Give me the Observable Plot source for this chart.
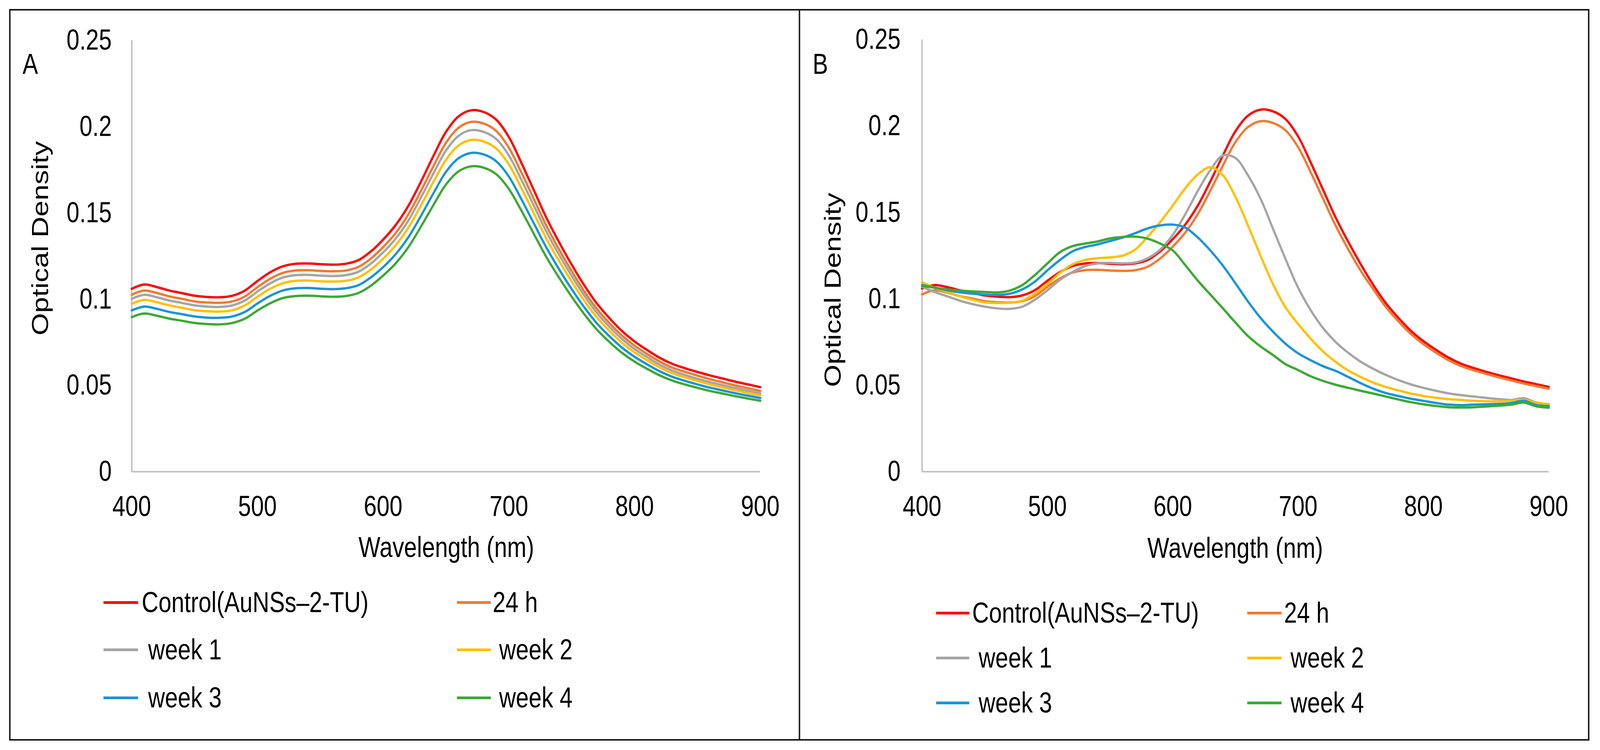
<!DOCTYPE html>
<html><head><meta charset="utf-8">
<script src="https://cdn.jsdelivr.net/npm/d3@7"></script>
<script src="https://cdn.jsdelivr.net/npm/@observablehq/plot@0.6"></script>
<style>
html,body{margin:0;padding:0;background:#fff;overflow:hidden;}
#page{position:absolute;left:0;top:0;width:4391px;height:1920px;overflow:hidden;background:#fff;font-family:"Liberation Sans",Arial,sans-serif;color:#000;transform-origin:0 0;}
.t{position:absolute;font-size:74px;line-height:74px;white-space:pre;transform-origin:0 50%;transform:scaleX(0.86);}
.tc{position:absolute;font-size:74px;line-height:74px;white-space:pre;transform:translateX(-50%) scaleX(0.86);}
.tr{position:absolute;font-size:74px;line-height:74px;white-space:pre;transform:translate(-50%,-50%) rotate(-90deg) scale(1,0.86);}
.sw{position:absolute;height:7px;}
.panel{position:absolute;top:0;}
.box{position:absolute;box-sizing:border-box;border:4px solid #1a1a1a;}
.sep{position:absolute;background:#1a1a1a;}
</style></head><body><div id="page"></div>
<script>
// ---------- data ----------
const wavelengths = [400,410,420,430,440,450,460,470,480,490,500,510,520,530,540,550,560,570,580,590,600,610,620,630,640,650,660,670,680,690,700,710,720,730,740,750,760,770,780,790,800,810,820,830,840,850,860,870,880,890,900];
const xTicks = [400,500,600,700,800,900];
const xTickLabels = ["400","500","600","700","800","900"];
const yTicks = [0,0.05,0.1,0.15,0.2,0.25];
const yTickLabels = ["0","0.05","0.1","0.15","0.2","0.25"];
const seriesNames = ["Control(AuNSs\u20132-TU)","24 h"," week 1"," week 2"," week 3"," week 4"];
const panelLabels = ["A","B"];
const xTitle = "Wavelength (nm)";
const yTitle = "Optical Density";

// Panel A
const A_control = [.1060,.1085,.1070,.1050,.1035,.1020,.1013,.1011,.1020,.1050,.1105,.1155,.1190,.1205,.1207,.1203,.1200,.1205,.1225,.1275,.1345,.1430,.1540,.1680,.1830,.1970,.2060,.2095,.2085,.2040,.1940,.1790,.1630,.1470,.1330,.1200,.1080,.0975,.0890,.0815,.0755,.0705,.0660,.0625,.0600,.0578,.0558,.0540,.0522,.0506,.0490];
const A_24h = [.1026,.1050,.1036,.1016,.1002,.0987,.0981,.0979,.0987,.1016,.1070,.1118,.1152,.1166,.1168,.1164,.1162,.1166,.1186,.1234,.1302,.1384,.1491,.1626,.1771,.1907,.1994,.2028,.2018,.1975,.1878,.1733,.1578,.1423,.1287,.1162,.1045,.0944,.0861,.0789,.0730,.0682,.0638,.0603,.0579,.0557,.0536,.0518,.0500,.0484,.0468];
const A_week1 = [.1002,.1025,.1011,.0992,.0978,.0964,.0957,.0955,.0964,.0992,.1044,.1091,.1125,.1139,.1141,.1137,.1134,.1139,.1158,.1205,.1271,.1351,.1455,.1588,.1729,.1862,.1947,.1980,.1970,.1928,.1833,.1692,.1540,.1389,.1257,.1134,.1021,.0921,.0840,.0769,.0711,.0664,.0620,.0586,.0561,.0539,.0519,.0502,.0485,.0469,.0454];
const A_week2 = [.0973,.0996,.0982,.0964,.0950,.0936,.0930,.0928,.0936,.0964,.1014,.1060,.1092,.1106,.1108,.1104,.1102,.1106,.1125,.1170,.1235,.1313,.1414,.1542,.1680,.1808,.1891,.1923,.1914,.1873,.1781,.1643,.1496,.1349,.1221,.1102,.0991,.0895,.0816,.0747,.0692,.0646,.0604,.0571,.0547,.0526,.0506,.0489,.0472,.0457,.0443];
const A_week3 = [.0935,.0957,.0944,.0926,.0913,.0900,.0893,.0892,.0900,.0926,.0975,.1019,.1050,.1063,.1065,.1061,.1058,.1063,.1080,.1125,.1186,.1261,.1358,.1482,.1614,.1738,.1817,.1848,.1839,.1799,.1711,.1579,.1438,.1297,.1173,.1058,.0953,.0860,.0785,.0719,.0666,.0622,.0582,.0550,.0527,.0506,.0487,.0471,.0455,.0441,.0427];
const A_week4 = [.0896,.0917,.0904,.0887,.0875,.0862,.0856,.0854,.0862,.0887,.0934,.0976,.1006,.1018,.1020,.1017,.1014,.1018,.1035,.1077,.1137,.1208,.1301,.1420,.1546,.1665,.1741,.1770,.1762,.1724,.1639,.1513,.1377,.1242,.1124,.1014,.0913,.0824,.0752,.0689,.0638,.0596,.0558,.0528,.0506,.0486,.0468,.0453,.0438,.0424,.0411];

// Panel B
const B_control = [.1060,.1080,.1068,.1050,.1035,.1020,.1013,.1010,.1020,.1050,.1105,.1155,.1190,.1205,.1207,.1203,.1200,.1205,.1225,.1275,.1345,.1430,.1540,.1680,.1830,.1970,.2060,.2095,.2085,.2040,.1940,.1790,.1630,.1470,.1330,.1200,.1080,.0975,.0890,.0815,.0755,.0705,.0660,.0625,.0600,.0578,.0558,.0540,.0522,.0506,.0490];
const B_24h = [.1026,.1050,.1036,.1016,.1002,.0987,.0981,.0979,.0987,.1016,.1070,.1118,.1152,.1166,.1168,.1164,.1162,.1166,.1186,.1234,.1302,.1384,.1491,.1626,.1771,.1907,.1994,.2028,.2018,.1975,.1878,.1733,.1578,.1423,.1287,.1162,.1055,.0953,.0870,.0797,.0738,.0689,.0645,.0611,.0587,.0566,.0546,.0528,.0510,.0495,.0480];
const B_week1 = [.1070,.1040,.1015,.0990,.0970,.0955,.0945,.0942,.0955,.0995,.1050,.1110,.1155,.1190,.1205,.1208,.1205,.1210,.1235,.1285,.1370,.1490,.1625,.1745,.1830,.1815,.1715,.1580,.1405,.1230,.1065,.0935,.0830,.0750,.0688,.0636,.0595,.0560,.0530,.0505,.0485,.0468,.0453,.0443,.0435,.0427,.0420,.0415,.0425,.0400,.0390];
const B_week2 = [.1095,.1065,.1040,.1015,.0995,.0980,.0976,.0978,.0990,.1030,.1085,.1150,.1200,.1225,.1235,.1240,.1250,.1285,.1360,.1445,.1540,.1640,.1720,.1762,.1715,.1590,.1425,.1250,.1085,.0950,.0855,.0770,.0695,.0635,.0585,.0548,.0515,.0490,.0470,.0452,.0438,.0428,.0420,.0415,.0410,.0408,.0407,.0410,.0415,.0398,.0390];
const B_week3 = [.1080,.1065,.1050,.1038,.1030,.1025,.1023,.1030,.1055,.1100,.1165,.1225,.1275,.1300,.1315,.1335,.1355,.1380,.1408,.1425,.1430,.1412,.1355,.1280,.1192,.1090,.0985,.0890,.0810,.0740,.0685,.0645,.0610,.0583,.0548,.0512,.0480,.0455,.0438,.0422,.0410,.0398,.0388,.0385,.0388,.0390,.0392,.0397,.0410,.0385,.0380];
const B_week4 = [.1075,.1065,.1055,.1048,.1043,.1040,.1037,.1048,.1080,.1138,.1205,.1270,.1305,.1320,.1332,.1350,.1358,.1360,.1348,.1320,.1280,.1195,.1105,.1025,.0945,.0863,.0785,.0725,.0675,.0622,.0588,.0552,.0525,.0503,.0485,.0468,.0452,.0435,.0418,.0402,.0390,.0380,.0373,.0371,.0373,.0377,.0382,.0388,.0400,.0378,.0370];

// ---------- styles ----------
const lineColors = ["#FF0000","#EE7B33","#A5A5A5","#FFC000","#1A94D6","#3DA835"];

function toRows(arrays) {
  return arrays.flatMap((vals, k) => vals.map((v, i) => ({wl: wavelengths[i], od: v, series: seriesNames[k]})));
}
const dataA = toRows([A_control, A_24h, A_week1, A_week2, A_week3, A_week4]);
const dataB = toRows([B_control, B_24h, B_week1, B_week2, B_week3, B_week4]);

const page = document.getElementById("page");
// stretch the 4391x1920 layout over the viewport the browser actually reports
function fit() {
  const sx = window.innerWidth / 4391, sy = window.innerHeight / 1920;
  if (sx > 0 && sy > 0 && (Math.abs(sx - 1) > 0.002 || Math.abs(sy - 1) > 0.002)) {
    page.style.transform = `scale(${sx},${sy})`;
  } else {
    page.style.transform = "none";
  }
}
fit();
window.addEventListener("resize", fit);

function chart(data, o) {
  const svg = Plot.plot({
    width: o.width, height: 1500,
    marginLeft: o.ml, marginRight: o.mr, marginTop: o.mt, marginBottom: 293,
    style: {background: "transparent", fontFamily: '"Liberation Sans", Arial, sans-serif', fontSize: "74px", color: "#000", overflow: "visible"},
    x: {domain: [400, 900], ticks: xTicks, tickFormat: d => xTickLabels[xTicks.indexOf(d)], tickSize: 0, tickPadding: 61, label: null},
    y: {domain: [0, 0.25], ticks: yTicks, tickFormat: d => yTickLabels[yTicks.findIndex(t => Math.abs(t - d) < 1e-9)], tickSize: 0, tickPadding: o.yp, label: null},
    color: {domain: seriesNames, range: lineColors},
    marks: [
      Plot.ruleY([0], {stroke: "#c0c0c0", strokeWidth: 4}),
      Plot.ruleX([400], {stroke: "#c0c0c0", strokeWidth: 4}),
      Plot.line(data, {x: "wl", y: "od", z: "series", stroke: "series", strokeWidth: 6, curve: "catmull-rom", strokeLinejoin: "round"})
    ]
  });
  svg.querySelectorAll("text").forEach(t => {
    const tr = t.getAttribute("transform") || "";
    t.setAttribute("transform", `${tr} scale(0.86,1)`);
    t.setAttribute("fill", "#000");
  });
  svg.style.maxWidth = "none";
  const div = document.createElement("div");
  div.className = "panel";
  div.style.left = o.left + "px";
  div.style.width = o.width + "px";
  div.appendChild(svg);
  page.appendChild(div);
}

chart(dataA, {left: 0, width: 2194, ml: 361, mr: 108, mt: 103, yp: 55});
chart(dataB, {left: 2194, width: 2197, ml: 336, mr: 141, mt: 101, yp: 59});

function addText(cls, txt, left, top) {
  const d = document.createElement("div");
  d.className = cls; d.textContent = txt;
  d.style.left = left + "px"; d.style.top = top + "px";
  page.appendChild(d);
  return d;
}
function addSwatch(color, x0, x1, y) {
  const d = document.createElement("div");
  d.className = "sw";
  d.style.background = color;
  d.style.left = x0 + "px"; d.style.width = (x1 - x0) + "px"; d.style.top = (y - 3.5) + "px";
  page.appendChild(d);
}

// panel letters
addText("t", panelLabels[0], 62, 127);
addText("t", panelLabels[1], 2230, 127);
// axis titles
addText("tc", xTitle, 1225, 1364);
addText("tc", xTitle, 3390, 1366);
addText("tr", yTitle, 110, 610);
addText("tr", yTitle, 2285, 742);

// legends
function legend(col1, col2, rows) {
  seriesNames.forEach((name, k) => {
    const c = k % 2 === 0 ? col1 : col2;
    const y = rows[Math.floor(k / 2)];
    addSwatch(lineColors[k], c[0], c[1], y);
    addText("t", name, c[2], y - 37);
  });
}
legend([284, 379, 389], [1254, 1347, 1352], [1542, 1663, 1786]);
legend([2569, 2660, 2668], [3423, 3517, 3524], [1569, 1684, 1799]);

// frame
const box = document.createElement("div");
box.className = "box";
Object.assign(box.style, {left: "25px", top: "23px", width: "4337px", height: "1873px"});
page.appendChild(box);
const sep = document.createElement("div");
sep.className = "sep";
Object.assign(sep.style, {left: "2192px", top: "23px", width: "4px", height: "1873px"});
page.appendChild(sep);
</script></body></html>
